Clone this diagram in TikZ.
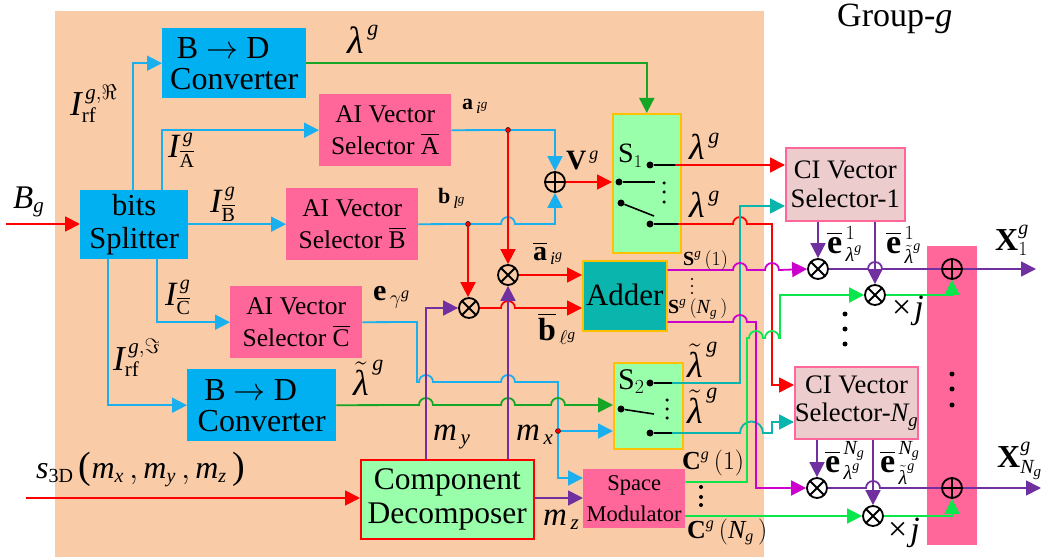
\documentclass[tikz,border=0pt]{standalone}
\usepackage{fix-cm}
\usepackage{amsmath}
\usepackage{fontspec}
\setmainfont{Liberation Serif}
\usetikzlibrary{arrows.meta,calc}
\DeclareMathSizes{20}{20}{13}{10}
\DeclareMathSizes{22}{22}{17}{13}
\DeclareMathSizes{26}{26}{16}{13}
\DeclareMathSizes{28}{28}{18}{14}
\DeclareMathSizes{30}{30}{20}{16}
\DeclareMathSizes{32}{32}{20}{15}
\DeclareMathSizes{33}{33}{21}{15}
\DeclareMathSizes{34}{34}{20}{14}
\DeclareMathSizes{35}{35}{21}{16}
\DeclareMathSizes{36}{36}{22}{16}
\DeclareMathSizes{38}{38}{22}{16}
\newcommand\fs[1]{\fontsize{#1}{#1}\selectfont}
\newcommand\mg{\mathit{g}}
\newcommand\lam{\text{\textit{λ}}}
\newcommand\tlam{\tilde{\lam}}
\newcommand\hop[2]{-- (#1-7,#2) arc[start angle=180,end angle=0,radius=7pt]}
\definecolor{bgc}{HTML}{F9CBA7}
\definecolor{cblue}{HTML}{00B0F0}
\definecolor{lblue}{HTML}{1AAFEE}
\definecolor{cpink}{HTML}{FF6699}
\definecolor{cgrn}{HTML}{99FFAA}
\definecolor{cteal}{HTML}{09B5AD}
\definecolor{cgold}{HTML}{FFC000}
\definecolor{crose}{HTML}{ECCCCC}
\definecolor{dgreen}{HTML}{16A626}
\definecolor{bgreen}{HTML}{0BE64D}
\definecolor{cmag}{HTML}{CC00CC}
\definecolor{cpur}{HTML}{7030A0}
\tikzset{
  x=1pt,y=-1pt,
  box/.style={rectangle,inner sep=0,align=center,anchor=north west},
  lab/.style={anchor=base west,inner sep=0,text=black},
  arr/.style={-{Triangle[length=15pt,width=15pt]},line width=1.8pt},
  wire/.style={line width=1.8pt},
  otim/.style={circle,draw=black,line width=1.8pt,minimum size=20pt,inner sep=0,
    path picture={\draw[line width=1.8pt] (path picture bounding box.north west)--(path picture bounding box.south east)
      (path picture bounding box.north east)--(path picture bounding box.south west);}},
  opls/.style={circle,draw=black,line width=1.8pt,minimum size=20pt,inner sep=0,
    path picture={\draw[line width=1.8pt] (path picture bounding box.north)--(path picture bounding box.south)
      (path picture bounding box.east)--(path picture bounding box.west);}},
  bdot/.style={circle,fill=black,inner sep=0,minimum size=7pt},
  sdot/.style={circle,fill=black,inner sep=0,minimum size=3.5pt},
  mdot/.style={circle,fill=black,inner sep=0,minimum size=5pt},
  tdot/.style={circle,fill=black,inner sep=0,minimum size=2.4pt},
  jdot/.style={circle,fill=red,draw=black,line width=.5pt,inner sep=0,minimum size=5pt},
}
\begin{document}
\begin{tikzpicture}
\useasboundingbox (0,0) rectangle (1042,559);
\fill[bgc] (55,11) rectangle (764,557);
\node[box,fill=cpink,minimum width=50pt,minimum height=299pt] (bar) at (927,246) {};

% blocks
\node[box,fill=cblue,minimum width=144pt,minimum height=70pt,font=\fs{32}] (bd1) at (162,28) {\hspace*{-22pt}B $\rightarrow$ D\\[-1pt]Converter};
\node[box,fill=cpink,minimum width=132pt,minimum height=72pt,font=\fs{25.5}] (aiA) at (319,94) {AI Vector\\[7pt]Selector $\overline{\mathrm{A}}$};
\node[box,fill=cblue,minimum width=108pt,minimum height=69pt,font=\fs{30.5}] (bits) at (80,190) {bits\\[3pt]Splitter};
\node[box,fill=cpink,minimum width=132pt,minimum height=72pt,font=\fs{25.5}] (aiB) at (286,188) {AI Vector\\[7pt]Selector $\overline{\mathrm{B}}$};
\node[box,fill=cpink,minimum width=132pt,minimum height=72pt,font=\fs{25.5}] (aiC) at (230,286) {AI Vector\\[7pt]Selector $\overline{\mathrm{C}}$};
\node[box,fill=cblue,minimum width=149pt,minimum height=72pt,font=\fs{32}] (bd2) at (187,369) {\hspace*{-22pt}B $\rightarrow$ D\\[-1pt]Converter};
\node[box,fill=cgrn,draw=red,line width=1.6pt,minimum width=173pt,minimum height=79pt,font=\fs{31.5}] (comp) at (360,459) {Component\\[2pt]Decomposer};
\node[box,fill=cgrn,draw=cgold,line width=1.6pt,minimum width=68pt,minimum height=139pt] (s1) at (612,113) {};
\node[box,fill=cteal,draw=cgold,line width=1.6pt,minimum width=84pt,minimum height=70pt,font=\fs{31}] (add) at (582,260) {\raisebox{3pt}{Adder}};
\node[box,fill=cgrn,draw=cgold,line width=1.6pt,minimum width=69pt,minimum height=86pt] (s2) at (613,362) {};
\node[box,fill=cpink,minimum width=102pt,minimum height=59pt,font=\fs{22.5}] (sm) at (583,469) {Space\\[8pt]Modulator};
\node[box,fill=crose,draw=cpink,line width=1.6pt,minimum width=119pt,minimum height=73pt,font=\fs{26.7}] (ci1) at (785,147) {CI Vector\\[2pt]Selector-1};
\node[box,fill=crose,draw=cpink,line width=1.6pt,minimum width=119pt,minimum height=72pt,font=\fs{26.7}] (ciN) at (794,366) {CI Vector\\[2pt]Selector-$\mathit{N}_{\mg}$};

% operators
\node[opls] (vp) at (555,182) {};
\node[otim] (ma) at (508,275) {};
\node[otim] (me) at (469,308) {};
\node[otim] (m1) at (818,269) {};
\node[otim] (j1) at (875,295) {};
\node[opls] (x1) at (952,269) {};
\node[otim] (mN) at (817,488) {};
\node[otim] (jN) at (873,516) {};
\node[opls] (xN) at (952,488) {};

% switch contacts
\node[bdot] (s1a) at (650,165) {};
\node[bdot] (s1i) at (619,182) {};
\coordinate (s1j) at (655,182);
\node[bdot] (s1k) at (621,203) {};
\coordinate (s1l) at (654,216);
\node[bdot] (s1b) at (650,224) {};
\node[bdot] (s2a) at (650,383) {};
\node[bdot] (s2k) at (621,409) {};
\coordinate (s2l) at (654,414);
\node[bdot] (s2b) at (650,433) {};
\foreach \n/\xx/\yy in {d1/664/183,d2/664/192,d3/664/202,d4/667/400,d5/667/409,d6/667/418}
  \node[sdot] (\n) at (\xx,\yy) {};
\foreach \n/\yy in {d7/487,d8/497,d9/505}
  \node[sdot,minimum size=4pt] (\n) at (701,\yy) {};
\foreach \n/\yy in {d10/314,d11/329,d12/344}
  \node[mdot] (\n) at (845,\yy) {};
\foreach \n/\yy in {b1/374,b2/389,b3/405}
  \node[mdot] (\n) at (952,\yy) {};
\foreach \n/\yy in {t1/279,t2/286,t3/293}
  \node[tdot] (\n) at (692,\yy) {};
\node[jdot] (ja) at (508,130) {};
\node[jdot] (jb) at (468,224) {};
\node[jdot] (jc) at (558,431) {};
\coordinate (inB) at (6,224);
\coordinate (inS) at (26,498);
\coordinate (outX1) at (1036,269);
\coordinate (outXN) at (1041,488);

% switch blades
\draw[line width=1.6pt] (s1i) -- (s1j);
\draw[line width=1.6pt] (s1k) -- (s1l);
\draw[line width=1.6pt] (s2k) -- (s2l);
\draw[line width=1.6pt] (s1a) -- (675,165);
\draw[line width=1.6pt] (s1b) -- (678,224);
\draw[line width=1.6pt] (s2a) -- (672,383);
\draw[line width=1.6pt] (s2b) -- (672,433);

% blue
\draw[arr,lblue] (133,0 |- bits.north) |- (bd1.west);
\draw[arr,lblue] (162,0 |- bits.north) |- (aiA.west);
\draw[arr,lblue] (bits.east |- aiB.west) -- (aiB.west);
\draw[arr,lblue] (108,0 |- bits.south) |- (bd2.west);
\draw[arr,lblue] (157,0 |- bits.south) |- (aiC.west);
\draw[arr,lblue] (aiA.east) -- (ja) -| (vp.north);
\draw[arr,lblue] (aiB.east) -- (jb) \hop{508}{224} -| (vp.south);
\draw[arr,lblue] (aiC.east) -- (417,322) -- (417,382) \hop{426}{382} \hop{508}{382} -- (558,382) -- (jc) |- (sm.west |- 0,478);
\draw[arr,lblue] (jc) -- (s2.west |- jc);

% green
\draw[arr,dgreen] (bd1.east) -| (s1.north);
\draw[arr,dgreen] (bd2.east) \hop{426}{405} \hop{508}{405} \hop{558}{405} -- (s2.west |- 0,405);

% red
\draw[arr,red] (inB) -- (bits.west |- inB);
\draw[arr,red] (inS) -- (comp.west |- inS);
\draw[arr,red] (ja) -- (ma.north);
\draw[arr,red] (jb) -- (jb |- me.north);
\draw[arr,red] (vp.east) -- (s1.west |- vp);
\draw[arr,red] (ma.east) -- (add.west |- ma);
\draw[arr,red] (me.east) \hop{508}{308} -- (add.west |- me);
\draw[arr,red] (675,165) -- (ci1.west |- 0,165);
\draw[arr,red] (678,224) \hop{740}{224} -- (756,224) -- (772,224) -- (772,385) -- (ciN.west |- 0,385);

% purple from decomposer
\draw[arr,cpur] (426,0 |- comp.north) |- (me.west);
\draw[arr,cpur] (ma.south |- comp.north) -- (ma.south);
\draw[arr,cpur] (comp.east |- 0,498) -- (sm.west |- 0,498);

% teal
\draw[arr,cteal] (672,383) -- (740,383) -- (740,206) -- (ci1.west |- 0,206);
\draw[arr,cteal] (672,433) -- (740,433) arc[start angle=180,end angle=0,radius=11.5pt] -- (772,433) -- (772,422) -- (ciN.west |- 0,422);

% magenta
\draw[arr,cmag] (add.east |- 0,270) \hop{740}{270} \hop{772}{270} -- (m1.west);
\draw[arr,cmag] (add.east |- 0,322) \hop{740}{322} -- (756,322) |- (mN.west);

% bright green
\draw[arr,bgreen] (sm.east |- 0,482) -- (747,482) -- (747,338) \hop{756}{338} \hop{772}{338} -- (780,338) |- (j1.west);
\draw[arr,bgreen] (sm.east |- jN) -- (jN.west);
\draw[arr,bgreen] (j1.east) -| (x1.south);
\draw[arr,bgreen] (jN.east) -| (xN.south);

% purple outputs
\draw[arr,cpur] (ci1.south -| m1) -- (m1.north);
\draw[arr,cpur] (ci1.south -| j1) -- (j1.north);
\draw[arr,cpur] (ciN.south -| mN) -- (mN.north);
\draw[arr,cpur] (ciN.south -| jN) -- (jN.north);
\draw[wire,cpur] (m1.east) \hop{875}{269} -- (x1.west);
\draw[wire,cpur] (mN.east) \hop{873}{488} -- (xN.west);
\draw[arr,cpur] (x1.east) -- (outX1);
\draw[arr,cpur] (xN.east) -- (outXN);

% labels
\node[lab] (tGroup) at (837,27) {\fs{34}Group-\textit{g}};
\node[lab] (tB) at (13,208) {\fs{33}$\mathit{B}_{\mg}$};
\node[lab] (tL1) at (347,54) {\fs{38}$\lam^{\,\mg}$};
\node[lab] (tIr) at (70,116) {\fs{35}$\mathit{I}^{\,\mg,\Re}_{\mathrm{rf}}$};
\node[lab] (tIA) at (168,158) {\fs{34}$\mathit{I}^{\,\mg}_{\overline{\mathrm{A}}}$};
\node[lab] (tIB) at (210,212) {\fs{34}$\mathit{I}^{\,\mg}_{\overline{\mathrm{B}}}$};
\node[lab] (tIC) at (165,305) {\fs{34}$\mathit{I}^{\,\mg}_{\overline{\mathrm{C}}}$};
\node[lab] (tIi) at (113,370) {\fs{35}$\mathit{I}^{\,\mg,\Im}_{\mathrm{rf}}$};
\node[lab] (ta) at (462,110) {\fs{22}$\mathbf{a}_{\,\mathit{i}^{\mg}}$};
\node[lab] (tb) at (438,204) {\fs{22}$\mathbf{b}_{\,\mathit{l}^{\mg}}$};
\node[lab] (te) at (373,300) {\fs{30}$\mathbf{e}_{\,\gamma^{\mg}}$};
\node[lab] (tV) at (566,170) {\fs{28}$\mathbf{V}^{\,\mg}$};
\node[lab] (tS1) at (618,163) {\fs{28}$\mathrm{S}_{1}$};
\node[lab] (tS2) at (618,389) {\fs{30}$\mathrm{S}_{2}$};
\node[lab] (tL2) at (689,160) {\fs{36}$\lam^{\,\mg}$};
\node[lab] (tL3) at (689,218) {\fs{36}$\lam^{\,\mg}$};
\node[lab] (tab) at (533,260) {\fs{28}$\overline{\mathbf{a}}_{\,\mathit{i}^{\mg}}$};
\node[lab] (tbb) at (538,340) {\fs{32}$\overline{\mathbf{b}}_{\,\ell^{\mg}}$};
\node[lab] (tS1g) at (683,265) {\fs{20}$\mathbf{S}^{\mg}\,(1)$};
\node[lab] (tSNg) at (668,313) {\fs{20}$\mathbf{S}^{\mg}\,(\mathit{N}_{\mg}\,)$};
\node[lab] (tT0) at (353,395) {\fs{36}$\tlam^{\,\mg}$};
\node[lab] (tT1) at (687,377) {\fs{36}$\tlam^{\,\mg}$};
\node[lab] (tT2) at (687,423) {\fs{36}$\tlam^{\,\mg}$};
\node[lab] (tC1) at (682,469) {\fs{26}$\mathbf{C}^{\mg}\,(1)$};
\node[lab] (tCN) at (687,538) {\fs{26}$\mathbf{C}^{\mg}\,(\mathit{N}_{\mg}\,)$};
\node[lab] (tmy) at (433,440) {\fs{33}$\mathit{m}_{\,\mathit{y}}$};
\node[lab] (tmx) at (516,440) {\fs{33}$\mathit{m}_{\,\mathit{x}}$};
\node[lab] (tmz) at (543,525) {\fs{33}$\mathit{m}_{\,\mathit{z}}$};
\node[lab] (ts) at (36,478) {\fs{32}$\mathit{s}_{\mathrm{3D}}\,\text{\fs{38}(}\mathit{m}_{\mathit{x}}\,,\mathit{m}_{\mathit{y}}\,,\mathit{m}_{\mathit{z}}\,\text{\fs{38})}$};
\node[lab] (te1a) at (827,253) {\fs{34}$\overline{\mathbf{e}}^{\,1}_{\,\lam^{\mg}}$};
\node[lab] (te1b) at (886,253) {\fs{34}$\overline{\mathbf{e}}^{\,1}_{\,\tlam^{\mg}}$};
\node[lab] (teNa) at (825,472) {\fs{34}$\overline{\mathbf{e}}^{\,\mathit{N}_{\mg}}_{\,\lam^{\mg}}$};
\node[lab] (teNb) at (880,472) {\fs{34}$\overline{\mathbf{e}}^{\,\mathit{N}_{\mg}}_{\,\tlam^{\mg}}$};
\node[lab] (tX1) at (995,250) {\fs{32}$\mathbf{X}^{\mg}_{1}$};
\node[lab] (tXN) at (997,467) {\fs{32}$\mathbf{X}^{\mg}_{\mathit{N}_{\mg}}$};
\node[lab] (tj1) at (892,318) {\fs{34}×\hspace{3pt}\textit{j}};
\node[lab] (tjN) at (888,540) {\fs{34}×\hspace{3pt}\textit{j}};
\end{tikzpicture}
\end{document}
